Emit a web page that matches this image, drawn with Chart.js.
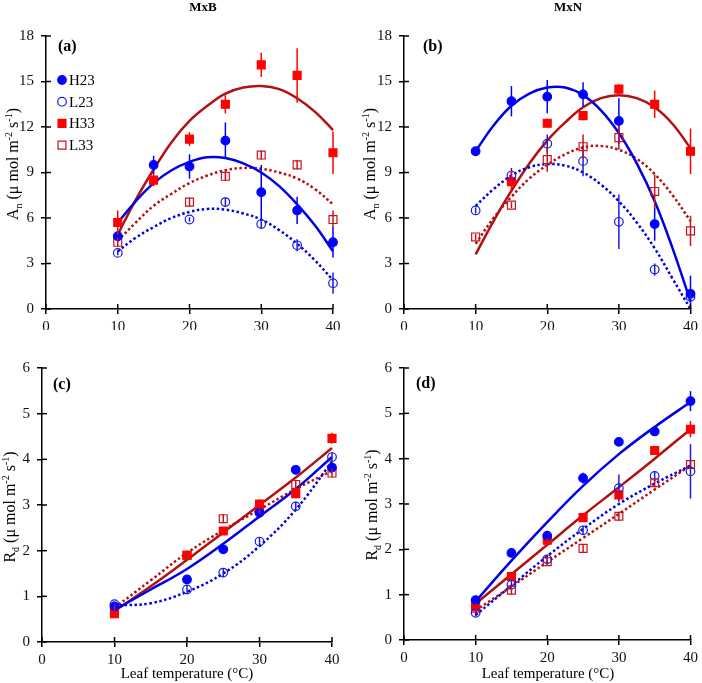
<!DOCTYPE html>
<html>
<head>
<meta charset="utf-8">
<script src="https://cdn.jsdelivr.net/npm/chart.js@4.4.1/dist/chart.umd.min.js"></script>
<style>
  body { margin: 0; background: #fff; width: 702px; height: 683px; position: relative; overflow: hidden; font-family: "Liberation Serif", "Times New Roman", serif; }
  .panel { position: absolute; }
  .txt { position: absolute; white-space: nowrap; color: #000; transform: translate(-50%, -50%); }
  .head { font-weight: bold; font-size: 13px; }
  .tag { font-weight: bold; font-size: 16px; transform: translate(0, -50%); }
  .ytitle { font-size: 16px; transform: translate(-50%, -50%) rotate(-90deg); }
  .xtitle { font-size: 15px; }
  .sub { font-size: 10px; position: relative; top: 4px; }
  .sup { font-size: 10px; position: relative; top: -6px; }
</style>
</head>
<body>
<canvas id="chartA" class="panel" style="left:0;top:0" width="351" height="330"></canvas>
<canvas id="chartB" class="panel" style="left:351px;top:0" width="351" height="330"></canvas>
<canvas id="chartC" class="panel" style="left:0;top:330px" width="351" height="353"></canvas>
<canvas id="chartD" class="panel" style="left:351px;top:330px" width="351" height="353"></canvas>

<div class="txt head" style="left:203px;top:7px">MxB</div>
<div class="txt head" style="left:568px;top:7px">MxN</div>
<div class="txt tag" style="left:58px;top:46px">(a)</div>
<div class="txt tag" style="left:423px;top:46px">(b)</div>
<div class="txt tag" style="left:53px;top:384px">(c)</div>
<div class="txt tag" style="left:416px;top:383px">(d)</div>
<div class="txt ytitle" style="left:13px;top:164px">A<span class="sub">n</span> (μ mol m<span class="sup">-2</span> s<span class="sup">-1</span>)</div>
<div class="txt ytitle" style="left:370px;top:164px">A<span class="sub">n</span> (μ mol m<span class="sup">-2</span> s<span class="sup">-1</span>)</div>
<div class="txt ytitle" style="left:10px;top:507px">R<span class="sub">d</span> (μ mol m<span class="sup">-2</span> s<span class="sup">-1</span>)</div>
<div class="txt ytitle" style="left:372px;top:505px">R<span class="sub">d</span> (μ mol m<span class="sup">-2</span> s<span class="sup">-1</span>)</div>
<div class="txt xtitle" style="left:187px;top:673px">Leaf temperature (°C)</div>
<div class="txt xtitle" style="left:548px;top:673px">Leaf temperature (°C)</div>

<script>
// x values
const temps = [10, 15, 20, 25, 30, 35, 40];
const tempsC = [10, 20, 25, 30, 35, 40];
const fitTemps = [10, 12.5, 15, 17.5, 20, 22.5, 25, 27.5, 30, 32.5, 35, 37.5, 40];
const fitTempsR = [10, 15, 20, 25, 30, 35, 40];
const xTicks = [0, 10, 20, 30, 40];
const yTicksAn = [0, 3, 6, 9, 12, 15, 18];
const yTicksRd = [0, 1, 2, 3, 4, 5, 6];
const seriesNames = ['H23', 'L23', 'H33', 'L33'];

// (a) MxB, An
const aH23 = [4.8, 9.5, 9.4, 11.1, 7.7, 6.5, 4.4];
const aH23Err = [0.3, 0.6, 0.8, 1.2, 1.8, 0.9, 1.0];
const aL23 = [3.7, null, 5.9, 7.05, 5.6, 4.2, 1.7];
const aL23Err = [0.15, 0, 0.15, 0.3, 0.3, 0.4, 0.7];
const aH33 = [5.7, 8.5, 11.2, 13.5, 16.1, 15.4, 10.3];
const aH33Err = [0.8, 0.4, 0.45, 0.6, 0.8, 1.8, 1.4];
const aL33 = [4.4, null, 7.05, 8.75, 10.15, 9.5, 5.9];
const aL33Err = [0.3, 0, 0.3, 0.3, 0.3, 0.3, 0.6];
const aH23Fit = [5.7, 7.1, 8.3, 9.15, 9.7, 10.0, 9.95, 9.6, 9.0, 8.1, 6.9, 5.5, 3.8];
const aL23Fit = [3.8, 4.7, 5.4, 6.0, 6.4, 6.6, 6.55, 6.3, 5.9, 5.2, 4.3, 3.2, 1.9];
const aH33Fit = [4.9, 7.2, 9.2, 11.0, 12.4, 13.4, 14.2, 14.6, 14.7, 14.5, 13.9, 13.0, 11.8];
const aL33Fit = [4.5, 5.7, 6.8, 7.6, 8.3, 8.8, 9.15, 9.3, 9.25, 9.0, 8.6, 7.9, 6.9];

// (b) MxN, An
const bH23 = [10.4, 13.7, 14.0, 14.15, 12.4, 5.6, 1.0];
const bH23Err = [0.2, 1.0, 1.1, 0.8, 1.5, 1.1, 1.2];
const bL23 = [6.5, 8.8, 10.9, 9.75, 5.75, 2.6, 0.8];
const bL23Err = [0.2, 0.5, 0.6, 1.0, 1.8, 0.4, 0.3];
const bH33 = [null, 8.4, 12.25, 12.75, 14.5, 13.5, 10.4];
const bH33Err = [0, 0.7, 0.3, 0.3, 0.3, 0.9, 1.5];
const bL33 = [4.75, 6.85, 9.85, 10.7, 11.3, 7.75, 5.15];
const bL33Err = [0.2, 0.2, 0.8, 0.8, 0.8, 1.1, 1.0];
const bH23Fit = [10.4, 12.1, 13.4, 14.2, 14.6, 14.6, 14.1, 13.1, 11.6, 9.6, 7.1, 4.0, 0.5];
const bL23Fit = [6.8, 7.9, 8.8, 9.35, 9.55, 9.45, 9.0, 8.2, 7.1, 5.7, 4.0, 2.0, 0.0];
const bH33Fit = [3.6, 5.8, 7.8, 9.6, 11.1, 12.3, 13.3, 13.9, 14.1, 13.9, 13.3, 12.2, 10.6];
const bL33Fit = [4.3, 6.0, 7.4, 8.6, 9.5, 10.2, 10.65, 10.75, 10.5, 9.9, 8.9, 7.5, 5.8];

// (c) MxB, Rd
const cH23 = [0.78, 1.37, 2.03, 2.83, 3.77, 3.82];
const cH23Err = [0.05, 0.05, 0.05, 0.08, 0.05, 0.08];
const cL23 = [0.83, 1.15, 1.52, 2.2, 2.97, 4.05];
const cL23Err = [0.06, 0.1, 0.1, 0.1, 0.1, 0.1];
const cH33 = [0.62, 1.9, 2.43, 3.02, 3.25, 4.46];
const cH33Err = [0.05, 0.1, 0.05, 0.1, 0.1, 0.12];
const cL33 = [0.72, 1.9, 2.7, 2.9, 3.45, 3.7];
const cL33Err = [0.08, 0.1, 0.1, 0.1, 0.1, 0.1];
const cH23Fit = [0.7, 1.15, 1.6, 2.15, 2.75, 3.35, 4.05];
const cL23Fit = [0.8, 0.85, 1.1, 1.5, 2.1, 2.9, 3.95];
const cH33Fit = [0.68, 1.22, 1.8, 2.4, 3.0, 3.6, 4.25];
const cL33Fit = [0.75, 1.35, 1.95, 2.45, 2.9, 3.35, 3.75];

// (d) MxN, Rd
const dH23 = [0.88, 1.92, 2.3, 3.57, 4.37, 4.6, 5.27];
const dH23Err = [0.05, 0.05, 0.05, 0.12, 0.05, 0.1, 0.22];
const dL23 = [0.6, 1.22, 1.78, 2.42, 3.35, 3.62, 3.72];
const dL23Err = [0.08, 0.1, 0.1, 0.1, 0.3, 0.1, 0.6];
const dH33 = [0.73, 1.4, 2.2, 2.7, 3.2, 4.18, 4.65];
const dH33Err = [0.05, 0.05, 0.05, 0.05, 0.1, 0.05, 0.18];
const dL33 = [0.7, 1.1, 1.73, 2.02, 2.73, 3.47, 3.87];
const dL33Err = [0.1, 0.1, 0.1, 0.1, 0.1, 0.1, 0.1];
const dH23Fit = [0.85, 1.75, 2.6, 3.4, 4.1, 4.7, 5.25];
const dL23Fit = [0.55, 1.2, 1.85, 2.45, 3.0, 3.45, 3.85];
const dH33Fit = [0.8, 1.45, 2.1, 2.75, 3.37, 4.0, 4.65];
const dL33Fit = [0.65, 1.18, 1.72, 2.25, 2.78, 3.32, 3.85];

const styles = {
    H23: { color: '#0000ff', fill: '#0000ff', shape: 'circle', r: 4.3, line: '#0000e6', dash: [] },
    L23: { color: '#1c1ce0', fill: 'rgba(0,0,0,0)', shape: 'circle', r: 4.3, line: '#0000e6', dash: [2.5, 2.5] },
    H33: { color: '#ff0000', fill: '#ff0000', shape: 'rect', r: 5.6, line: '#b01212', dash: [] },
    L33: { color: '#c8141e', fill: 'rgba(0,0,0,0)', shape: 'rect', r: 5.6, line: '#b01212', dash: [2.5, 2.5] }
};

function pts(xs, ys, errs) {
    return xs.map((x, i) => ({ x: x, y: ys[i], e: errs ? errs[i] : 0 })).filter(p => p.y !== null);
}

// vertical error bars, drawn with the chart's own scales
const errorBars = {
    id: 'errorBars',
    afterDatasetsDraw(chart) {
        const { ctx, scales: { x, y } } = chart;
        ctx.save();
        chart.data.datasets.forEach(ds => {
            if (!ds.errColor) return;
            ctx.strokeStyle = ds.errColor;
            ctx.lineWidth = 1.5;
            ds.data.forEach(p => {
                if (!p.e) return;
                const px = x.getPixelForValue(p.x);
                ctx.beginPath();
                ctx.moveTo(px, y.getPixelForValue(Math.max(0, p.y - p.e)));
                ctx.lineTo(px, y.getPixelForValue(p.y + p.e));
                ctx.stroke();
            });
        });
        ctx.restore();
    }
};

// tick marks that cross the axis lines
const crossTicks = {
    id: 'crossTicks',
    afterDraw(chart) {
        const { ctx, scales: { x, y }, chartArea: a } = chart;
        ctx.save();
        ctx.strokeStyle = '#000';
        ctx.lineWidth = 1.5;
        x.ticks.forEach(t => {
            const px = x.getPixelForValue(t.value);
            ctx.beginPath(); ctx.moveTo(px, a.bottom); ctx.lineTo(px, a.bottom - 5); ctx.stroke();
        });
        y.ticks.forEach(t => {
            const py = y.getPixelForValue(t.value);
            ctx.beginPath(); ctx.moveTo(a.left, py); ctx.lineTo(a.left + 5, py); ctx.stroke();
        });
        ctx.restore();
    }
};

// legend inside panel (a)
const insideLegend = {
    id: 'insideLegend',
    afterDraw(chart, args, opts) {
        if (!opts.show) return;
        const ctx = chart.ctx;
        ctx.save();
        ctx.font = '15px "Liberation Serif", serif';
        ctx.textBaseline = 'middle';
        seriesNames.forEach((name, i) => {
            const s = styles[name];
            const cx = opts.x, cy = opts.y + i * opts.gap;
            ctx.fillStyle = s.fill;
            ctx.strokeStyle = s.color;
            ctx.lineWidth = 1.2;
            ctx.beginPath();
            if (s.shape === 'circle') ctx.arc(cx, cy, s.r, 0, Math.PI * 2);
            else ctx.rect(cx - s.r * 0.707, cy - s.r * 0.707, s.r * 1.414, s.r * 1.414);
            ctx.fill();
            ctx.stroke();
            ctx.fillStyle = '#000';
            ctx.fillText(name, cx + 7, cy + 1);
        });
        ctx.restore();
    }
};

function makePanel(id, p) {
    const datasets = [];
    seriesNames.forEach(name => {
        const s = styles[name];
        const d = p.series[name];
        datasets.push({
            label: name,
            data: pts(p.xs, d[0], d[1]),
            pointStyle: s.shape,
            pointRadius: s.r,
            pointBackgroundColor: s.fill,
            pointBorderColor: s.color,
            pointBorderWidth: 1.2,
            showLine: false,
            clip: false,
            errColor: s.color,
            order: 0
        });
        datasets.push({
            label: name + ' fit',
            data: pts(p.fitXs, d[2]),
            showLine: true,
            pointRadius: 0,
            borderColor: s.line,
            borderWidth: 2.5,
            borderDash: s.dash,
            borderCapStyle: 'butt',
            tension: 0.4,
            clip: 2,
            order: 1
        });
    });

    const tickFont = { family: '"Liberation Serif", serif', size: 15 };
    return new Chart(document.getElementById(id), {
        type: 'scatter',
        data: { datasets: datasets },
        options: {
            responsive: false,
            animation: false,
            devicePixelRatio: 1,
            layout: { padding: p.pad },
            plugins: {
                legend: { display: false },
                tooltip: { enabled: false },
                insideLegend: p.legend || { show: false }
            },
            scales: {
                x: {
                    type: 'linear', min: 0, max: 40,
                    afterBuildTicks: sc => { sc.ticks = xTicks.map(v => ({ value: v })); },
                    afterFit: sc => { sc.height = p.xHeight; },
                    border: { color: '#000', width: 1.5 },
                    grid: { drawOnChartArea: false, drawTicks: true, tickLength: 5, color: '#000', lineWidth: 1.5 },
                    ticks: { font: tickFont, color: '#111', padding: 4, maxRotation: 0 }
                },
                y: {
                    type: 'linear', min: 0, max: p.yMax,
                    afterBuildTicks: sc => { sc.ticks = p.yTicks.map(v => ({ value: v })); },
                    afterFit: sc => { sc.width = p.yWidth; },
                    border: { color: '#000', width: 1.5 },
                    grid: { drawOnChartArea: false, drawTicks: true, tickLength: 5, color: '#000', lineWidth: 1.5 },
                    ticks: { font: tickFont, color: '#111', padding: 7 }
                }
            }
        },
        plugins: [errorBars, crossTicks, insideLegend]
    });
}

makePanel('chartA', {
    xs: temps, fitXs: fitTemps, yMax: 18, yTicks: yTicksAn,
    pad: { top: 36, right: 18, left: 0, bottom: 0 }, yWidth: 46, xHeight: 21,
    legend: { show: true, x: 62, y: 80, gap: 21.7 },
    series: {
        H23: [aH23, aH23Err, aH23Fit], L23: [aL23, aL23Err, aL23Fit],
        H33: [aH33, aH33Err, aH33Fit], L33: [aL33, aL33Err, aL33Fit]
    }
});

makePanel('chartB', {
    xs: temps, fitXs: fitTemps, yMax: 18, yTicks: yTicksAn,
    pad: { top: 36, right: 9, left: 0, bottom: 0 }, yWidth: 53, xHeight: 21,
    series: {
        H23: [bH23, bH23Err, bH23Fit], L23: [bL23, bL23Err, bL23Fit],
        H33: [bH33, bH33Err, bH33Fit], L33: [bL33, bL33Err, bL33Fit]
    }
});

makePanel('chartC', {
    xs: tempsC, fitXs: fitTempsR, yMax: 6, yTicks: yTicksRd,
    pad: { top: 38, right: 19, left: 0, bottom: 0 }, yWidth: 42, xHeight: 41,
    series: {
        H23: [cH23, cH23Err, cH23Fit], L23: [cL23, cL23Err, cL23Fit],
        H33: [cH33, cH33Err, cH33Fit], L33: [cL33, cL33Err, cL33Fit]
    }
});

makePanel('chartD', {
    xs: temps, fitXs: fitTempsR, yMax: 6, yTicks: yTicksRd,
    pad: { top: 38, right: 9, left: 0, bottom: 0 }, yWidth: 53, xHeight: 43,
    series: {
        H23: [dH23, dH23Err, dH23Fit], L23: [dL23, dL23Err, dL23Fit],
        H33: [dH33, dH33Err, dH33Fit], L33: [dL33, dL33Err, dL33Fit]
    }
});
</script>
</body>
</html>
